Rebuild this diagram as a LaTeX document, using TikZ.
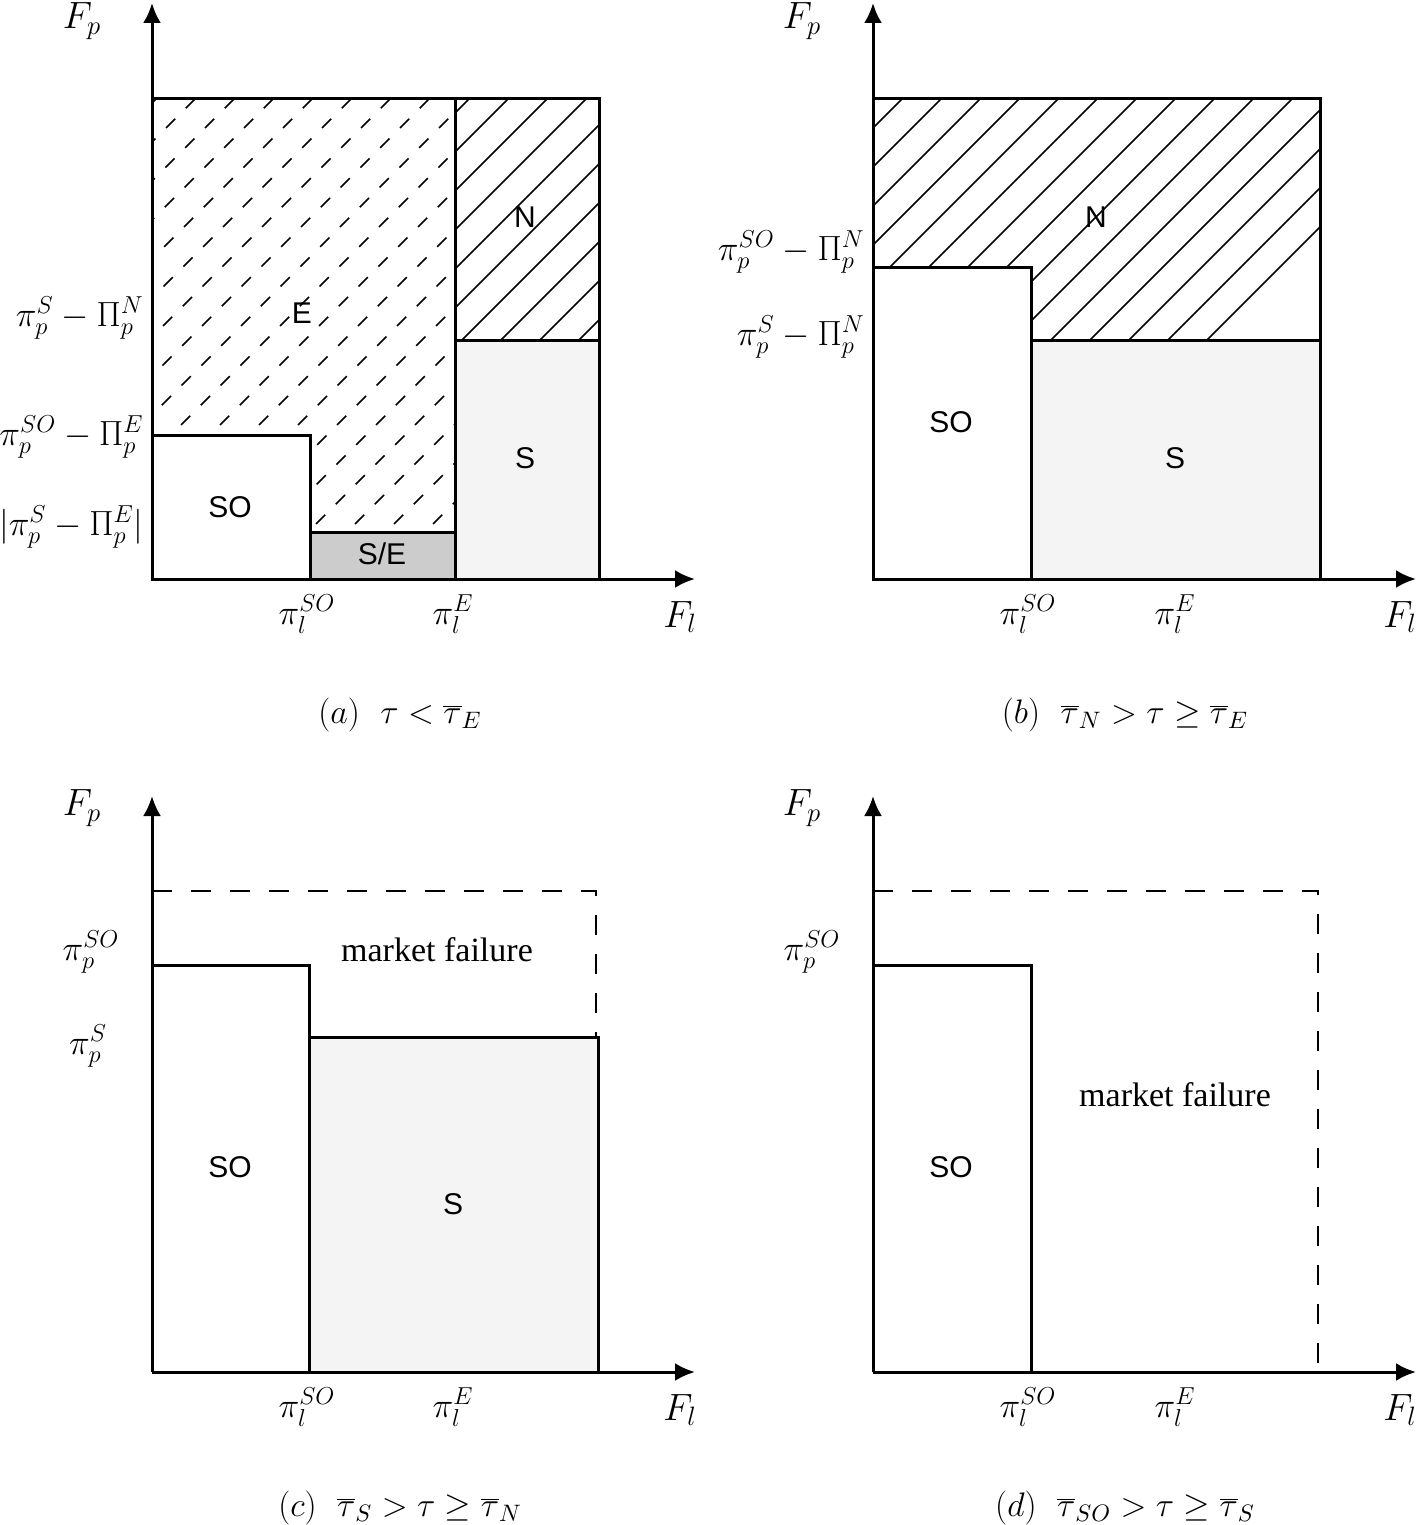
\RequirePackage{fix-cm}
\documentclass[tikz,border=0pt]{standalone}
\usepackage{fontspec}
\newfontfamily\sansf{Liberation Sans}
\newfontfamily\seriff{Liberation Serif}
\usetikzlibrary{arrows.meta}
\definecolor{sfill}{HTML}{F4F4F4}
\definecolor{sefill}{HTML}{CCCCCC}
\begin{document}
\begin{tikzpicture}[x=0.5pt,y=-0.5pt,
  axis/.style={line width=1.5pt,-{Latex[length=10pt,width=9pt]}},
  region/.style={line width=1.5pt},
  hatch/.style={line width=0.8pt},
  dhatch/.style={line width=0.85pt,dash pattern=on 6.5pt off 7.5pt},
  bound/.style={line width=1.4pt,dash pattern=on 10pt off 9.5pt},
  mlab/.style={font=\fontsize{17.5}{20}\selectfont,inner sep=1pt},
  flab/.style={font=\fontsize{19}{22}\selectfont,inner sep=1pt},
  rlab/.style={font=\sansf\fontsize{15}{17}\selectfont,inner sep=1pt},
  caplab/.style={font=\fontsize{17}{20}\selectfont,inner sep=1pt},
  mflab/.style={font=\seriff\fontsize{17}{20}\selectfont,inner sep=1pt}]
\useasboundingbox (0,0) rectangle (1417,1525);

% ================= panel (a) =================
\fill[sfill] (455,340) rectangle (599,579);
\fill[sefill] (310,532) rectangle (455,579);
\begin{scope}
  \clip (455,99) rectangle (599,340);
  \foreach \k in {-8,...,8} \draw[hatch] ({508+39*\k},99) -- ({508+39*\k-300},399);
\end{scope}
\begin{scope}
  \clip (152,99) -- (455,99) -- (455,532) -- (310,532) -- (310,435) -- (152,435) -- cycle;
  \foreach \k in {0,...,22} \draw[dhatch] ({156+39*\k},99) -- ({156+39*\k-500},599);
\end{scope}
\draw[region] (152,99) rectangle (599,579);
\draw[region] (455,99) -- (455,579);
\draw[region] (152,435) -| (310,579);
\draw[region] (310,532) -- (455,532);
\draw[region] (455,340) -- (599,340);
\coordinate (ao) at (152,579);
\coordinate (ay) at (152,3);
\coordinate (ax) at (695,579);
\draw[axis] (ao) -- (ay);
\draw[axis] (ao) -- (ax);
\node[rlab] (aE) at (302,313) {E};
\node[rlab] (aN) at (525,217) {N};
\node[rlab] (aS) at (525,458) {S};
\node[rlab] (aSO) at (230,507) {SO};
\node[rlab] (aSE) at (382,554) {S/E};
\node[flab] (aFp) at (82,21) {$F_p$};
\node[mlab,anchor=east] (al1) at (146,318) {$\pi_p^S-\Pi_p^N$};
\node[mlab,anchor=east] (al2) at (146,437) {$\pi_p^{SO}-\Pi_p^E$};
\node[mlab,anchor=east] (al3) at (146,527) {$\Bigl|\pi_p^S-\Pi_p^E\Bigr|$};
\node[mlab] (ab1) at (307,614) {$\pi_l^{SO}$};
\node[mlab] (ab2) at (453,614) {$\pi_l^{E}$};
\node[flab] (aFl) at (680,617) {$F_l$};
\node[caplab] (acap) at (400,715) {$(a)\ \ \tau<\overline{\tau}_E$};

% ================= panel (b) =================
\fill[sfill] (1031,340) rectangle (1320,579);
\begin{scope}
  \clip (873,99) -- (1320,99) -- (1320,340) -- (1031,340) -- (1031,267) -- (873,267) -- cycle;
  \foreach \k in {-6,...,10} \draw[hatch] ({1058+39*\k},99) -- ({1058+39*\k-300},399);
\end{scope}
\draw[region] (873,99) rectangle (1320,579);
\draw[region] (873,267) -| (1031,579);
\draw[region] (1031,340) -- (1320,340);
\coordinate (bo) at (873,579);
\coordinate (by) at (873,3);
\coordinate (bx) at (1416,579);
\draw[axis] (bo) -- (by);
\draw[axis] (bo) -- (bx);
\node[rlab] (bN) at (1096,217) {N};
\node[rlab] (bSO) at (951,422) {SO};
\node[rlab] (bS) at (1175,458) {S};
\node[flab] (bFp) at (802,21) {$F_p$};
\node[mlab,anchor=east] (bl1) at (867,252) {$\pi_p^{SO}-\Pi_p^N$};
\node[mlab,anchor=east] (bl2) at (867,337) {$\pi_p^S-\Pi_p^N$};
\node[mlab] (bb1) at (1028,614) {$\pi_l^{SO}$};
\node[mlab] (bb2) at (1175,614) {$\pi_l^{E}$};
\node[flab] (bFl) at (1400,617) {$F_l$};
\node[caplab] (bcap) at (1125,715) {$(b)\ \ \overline{\tau}_N>\tau\geq\overline{\tau}_E$};

% ================= panel (c) =================
\fill[sfill] (309,1037) rectangle (598,1372);
\draw[region] (152,965) -| (309,1372);
\draw[region] (309,1037) -| (598,1372);
\draw[bound] (152,891) -- (596,891) -- (596,1037);
\coordinate (co) at (152,1372);
\coordinate (cy) at (152,796);
\coordinate (cx) at (695,1372);
\draw[axis] (co) -- (cy);
\draw[axis] (co) -- (cx);
\node[mflab] (cmf) at (437,950) {market failure};
\node[rlab] (cSO) at (230,1167) {SO};
\node[rlab] (cS) at (453,1204) {S};
\node[flab] (cFp) at (82,808) {$F_p$};
\node[mlab] (cl1) at (91,952) {$\pi_p^{SO}$};
\node[mlab] (cl2) at (88,1046) {$\pi_p^{S}$};
\node[mlab] (cb1) at (307,1407) {$\pi_l^{SO}$};
\node[mlab] (cb2) at (453,1407) {$\pi_l^{E}$};
\node[flab] (cFl) at (680,1410) {$F_l$};
\node[caplab] (ccap) at (400,1508) {$(c)\ \ \overline{\tau}_S>\tau\geq\overline{\tau}_N$};

% ================= panel (d) =================
\draw[region] (873,965) -| (1031,1372);
\draw[bound] (873,891) -- (1318,891) -- (1318,1372);
\coordinate (do) at (873,1372);
\coordinate (dy) at (873,796);
\coordinate (dx) at (1416,1372);
\draw[axis] (do) -- (dy);
\draw[axis] (do) -- (dx);
\node[mflab] (dmf) at (1175,1095) {market failure};
\node[rlab] (dSO) at (951,1167) {SO};
\node[flab] (dFp) at (802,808) {$F_p$};
\node[mlab] (dl1) at (812,952) {$\pi_p^{SO}$};
\node[mlab] (db1) at (1028,1407) {$\pi_l^{SO}$};
\node[mlab] (db2) at (1175,1407) {$\pi_l^{E}$};
\node[flab] (dFl) at (1400,1410) {$F_l$};
\node[caplab] (dcap) at (1125,1508) {$(d)\ \ \overline{\tau}_{SO}>\tau\geq\overline{\tau}_S$};
\end{tikzpicture}
\end{document}
